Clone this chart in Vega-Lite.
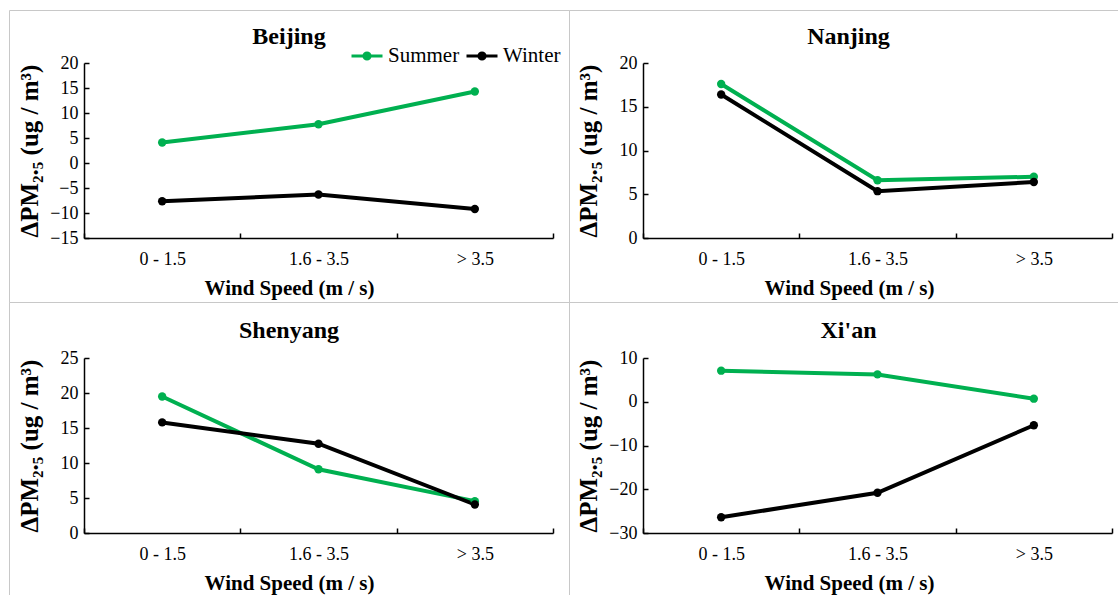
{
  "$schema": "https://vega.github.io/schema/vega-lite/v6.json",
  "padding": {"left": 8, "top": 9, "right": 0, "bottom": 0},
  "autosize": {"type": "pad"},
  "background": "white",
  "datasets": {
    "d": [
      {"city": "Beijing", "wind": "0 - 1.5", "season": "Summer", "value": 4.1},
      {"city": "Beijing", "wind": "1.6 - 3.5", "season": "Summer", "value": 7.75},
      {"city": "Beijing", "wind": "> 3.5", "season": "Summer", "value": 14.3},
      {"city": "Beijing", "wind": "0 - 1.5", "season": "Winter", "value": -7.65},
      {"city": "Beijing", "wind": "1.6 - 3.5", "season": "Winter", "value": -6.3},
      {"city": "Beijing", "wind": "> 3.5", "season": "Winter", "value": -9.2},
      {"city": "Nanjing", "wind": "0 - 1.5", "season": "Summer", "value": 17.6},
      {"city": "Nanjing", "wind": "1.6 - 3.5", "season": "Summer", "value": 6.6},
      {"city": "Nanjing", "wind": "> 3.5", "season": "Summer", "value": 7.0},
      {"city": "Nanjing", "wind": "0 - 1.5", "season": "Winter", "value": 16.4},
      {"city": "Nanjing", "wind": "1.6 - 3.5", "season": "Winter", "value": 5.35},
      {"city": "Nanjing", "wind": "> 3.5", "season": "Winter", "value": 6.4},
      {"city": "Shenyang", "wind": "0 - 1.5", "season": "Summer", "value": 19.5},
      {"city": "Shenyang", "wind": "1.6 - 3.5", "season": "Summer", "value": 9.1},
      {"city": "Shenyang", "wind": "> 3.5", "season": "Summer", "value": 4.55},
      {"city": "Shenyang", "wind": "0 - 1.5", "season": "Winter", "value": 15.8},
      {"city": "Shenyang", "wind": "1.6 - 3.5", "season": "Winter", "value": 12.75},
      {"city": "Shenyang", "wind": "> 3.5", "season": "Winter", "value": 4.07},
      {"city": "Xi'an", "wind": "0 - 1.5", "season": "Summer", "value": 7.1},
      {"city": "Xi'an", "wind": "1.6 - 3.5", "season": "Summer", "value": 6.25},
      {"city": "Xi'an", "wind": "> 3.5", "season": "Summer", "value": 0.7},
      {"city": "Xi'an", "wind": "0 - 1.5", "season": "Winter", "value": -26.4},
      {"city": "Xi'an", "wind": "1.6 - 3.5", "season": "Winter", "value": -20.8},
      {"city": "Xi'an", "wind": "> 3.5", "season": "Winter", "value": -5.37}
    ]
  },
  "spacing": 0,
  "bounds": "flush",
  "columns": 2,
  "concat": [
    {
      "width": 560, "height": 292,
      "data": {"name": "d"},
      "transform": [{"filter": "datum.city === 'Beijing'"}],
      "title": {"text": "Beijing", "offset": -39},
      "mark": {"type": "line", "strokeWidth": 4, "point": {"filled": true, "size": 70}},
      "encoding": {
        "x": {"field": "wind", "type": "nominal", "sort": ["0 - 1.5", "1.6 - 3.5", "> 3.5"],
              "scale": {"type": "band", "paddingInner": 0, "paddingOuter": 0, "range": [75, 544]},
              "axis": {"title": "Wind Speed (m / s)", "offset": -64, "titleX": 280, "titleY": 56}},
        "y": {"field": "value", "type": "quantitative",
              "scale": {"domain": [-15, 20], "nice": false, "zero": false, "range": [228, 53]},
              "axis": {"title": "ΔPM₂.₅ (ug / m³)", "values": [-15, -10, -5, 0, 5, 10, 15, 20], "offset": -75}},
        "color": {"field": "season", "type": "nominal",
                  "scale": {"domain": ["Summer", "Winter"], "range": ["#00b050", "#000000"]},
                  "legend": {"title": null, "orient": "none", "legendX": 341, "legendY": 29, "direction": "horizontal"}}
      }
    },
    {
      "width": 549, "height": 292,
      "data": {"name": "d"},
      "transform": [{"filter": "datum.city === 'Nanjing'"}],
      "title": {"text": "Nanjing", "offset": -39, "dx": 5},
      "mark": {"type": "line", "strokeWidth": 4, "point": {"filled": true, "size": 70}},
      "encoding": {
        "x": {"field": "wind", "type": "nominal", "sort": ["0 - 1.5", "1.6 - 3.5", "> 3.5"],
              "scale": {"type": "band", "paddingInner": 0, "paddingOuter": 0, "range": [74, 543]},
              "axis": {"title": "Wind Speed (m / s)", "offset": -64, "titleX": 280, "titleY": 56}},
        "y": {"field": "value", "type": "quantitative",
              "scale": {"domain": [0, 20], "nice": false, "zero": false, "range": [228, 53]},
              "axis": {"title": "ΔPM₂.₅ (ug / m³)", "values": [0, 5, 10, 15, 20], "offset": -74}},
        "color": {"field": "season", "type": "nominal",
                  "scale": {"domain": ["Summer", "Winter"], "range": ["#00b050", "#000000"]},
                  "legend": {"title": null, "orient": "none", "legendX": 341, "legendY": 29, "direction": "horizontal"}}
      }
    },
    {
      "width": 560, "height": 293,
      "data": {"name": "d"},
      "transform": [{"filter": "datum.city === 'Shenyang'"}],
      "title": {"text": "Shenyang", "offset": -41},
      "mark": {"type": "line", "strokeWidth": 4, "point": {"filled": true, "size": 70}},
      "encoding": {
        "x": {"field": "wind", "type": "nominal", "sort": ["0 - 1.5", "1.6 - 3.5", "> 3.5"],
              "scale": {"type": "band", "paddingInner": 0, "paddingOuter": 0, "range": [75, 544]},
              "axis": {"title": "Wind Speed (m / s)", "offset": -62, "titleX": 280, "titleY": 56}},
        "y": {"field": "value", "type": "quantitative",
              "scale": {"domain": [0, 25], "nice": false, "zero": false, "range": [231, 56]},
              "axis": {"title": "ΔPM₂.₅ (ug / m³)", "values": [0, 5, 10, 15, 20, 25], "offset": -75}},
        "color": {"field": "season", "type": "nominal",
                  "scale": {"domain": ["Summer", "Winter"], "range": ["#00b050", "#000000"]},
                  "legend": {"title": null, "orient": "none", "legendX": 341, "legendY": 29, "direction": "horizontal"}}
      }
    },
    {
      "width": 549, "height": 293,
      "data": {"name": "d"},
      "transform": [{"filter": "datum.city === \"Xi'an\""}],
      "title": {"text": "Xi'an", "offset": -41, "dx": 5},
      "mark": {"type": "line", "strokeWidth": 4, "point": {"filled": true, "size": 70}},
      "encoding": {
        "x": {"field": "wind", "type": "nominal", "sort": ["0 - 1.5", "1.6 - 3.5", "> 3.5"],
              "scale": {"type": "band", "paddingInner": 0, "paddingOuter": 0, "range": [74, 543]},
              "axis": {"title": "Wind Speed (m / s)", "offset": -62, "titleX": 280, "titleY": 56}},
        "y": {"field": "value", "type": "quantitative",
              "scale": {"domain": [-30, 10], "nice": false, "zero": false, "range": [231, 56]},
              "axis": {"title": "ΔPM₂.₅ (ug / m³)", "values": [-30, -20, -10, 0, 10], "offset": -74}},
        "color": {"field": "season", "type": "nominal",
                  "scale": {"domain": ["Summer", "Winter"], "range": ["#00b050", "#000000"]},
                  "legend": {"title": null, "orient": "none", "legendX": 341, "legendY": 29, "direction": "horizontal"}}
      }
    }
  ],
  "config": {
    "view": {"stroke": "#c8c8c8", "strokeWidth": 1},
    "style": {"guide-label": {"font": "Liberation Serif"}, "guide-title": {"font": "Liberation Serif"}},
    "title": {"font": "Liberation Serif", "fontSize": 24, "fontWeight": "bold", "color": "#000000", "anchor": "middle", "frame": "group", "baseline": "alphabetic"},
    "axis": {
      "labelFont": "Liberation Serif", "labelFontSize": 18, "labelColor": "#000000",
      "titleFont": "Liberation Serif", "titleFontSize": 21, "titleFontWeight": "bold", "titleColor": "#000000",
      "domainColor": "#000000", "domainWidth": 1.5, "tickColor": "#000000", "tickWidth": 1.5, "tickSize": -5,
      "grid": false
    },
    "axisX": {"labelAngle": 0, "tickBand": "extent", "labelPadding": 17, "titleBaseline": "alphabetic", "labelFont": "Liberation Serif"},
    "axisY": {"labelPadding": 11, "titleFontSize": 25, "titleX": -47, "titleBaseline": "alphabetic", "labelFont": "Liberation Serif"},
    "legend": {
      "labelFont": "Liberation Serif", "labelFontSize": 21, "labelColor": "#000000",
      "symbolType": "M-1,0L1,0M-0.2,0A0.2,0.2,0,1,1,0.2,0A0.2,0.2,0,1,1,-0.2,0Z",
      "symbolSize": 961, "symbolStrokeWidth": 3, "columnPadding": 0, "labelOffset": 4, "padding": 0
    }
  }
}
